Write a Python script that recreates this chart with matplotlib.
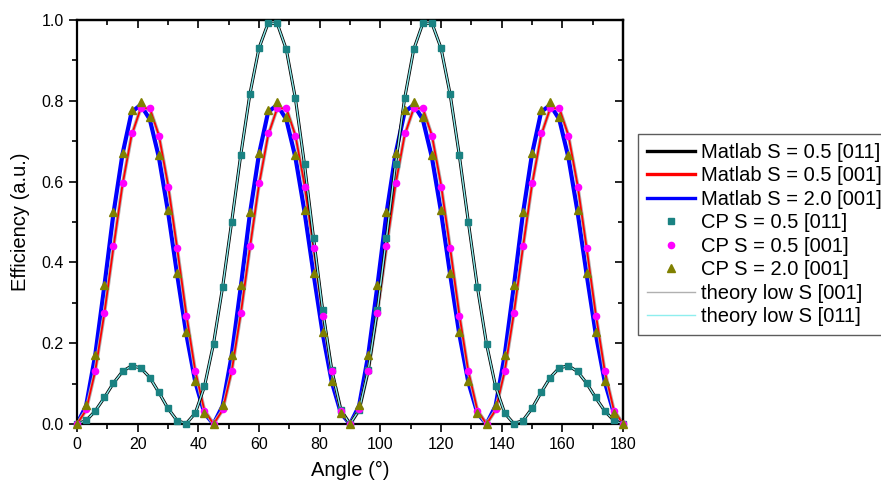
import matplotlib
matplotlib.use("Agg")
import matplotlib.pyplot as plt
from matplotlib.lines import Line2D
from matplotlib.ticker import MultipleLocator, FormatStrFormatter

plt.rcParams['font.family'] = ['Liberation Sans', 'DejaVu Sans']

angle = list(range(0, 181, 3))

matlab_05_011 = [0, .0085, .0321, .0651, .1010, .1300, .1440, .1390, .1150, .0780, .0385, .0085, .0010,
                 .0269, .0925, .1985, .3388, .5008, .6668, .8167, .9306, .9922, .9916, .9270, .8056,
                 .6425, .4596, .2815, .1328, .0344, 0,
                 .0344, .1328, .2815, .4596, .6425, .8056, .9270, .9916, .9922, .9306, .8167, .6668,
                 .5008, .3388, .1985, .0925, .0269, .0010, .0085, .0385, .0780, .1150, .1390, .1440,
                 .1300, .1010, .0651, .0321, .0085, 0]

matlab_05_001 = [0, .0342, .1307, .2729, .4363, .5925, .7146, .7814, .7814, .7146, .5925, .4363, .2729, .1307, .0342,
                 0, .0342, .1307, .2729, .4363, .5925, .7146, .7814, .7814, .7146, .5925, .4363, .2729, .1307, .0342,
                 0, .0342, .1307, .2729, .4363, .5925, .7146, .7814, .7814, .7146, .5925, .4363, .2729, .1307, .0342,
                 0, .0342, .1307, .2729, .4363, .5925, .7146, .7814, .7814, .7146, .5925, .4363, .2729, .1307, .0342,
                 0]

matlab_20_001 = [0, .045, .170, .340, .520, .668, .772, .790, .754, .660, .526, .371, .224, .104, .027,
                 0, .045, .170, .340, .520, .668, .772, .790, .754, .660, .526, .371, .224, .104, .027,
                 0, .045, .170, .340, .520, .668, .772, .790, .754, .660, .526, .371, .224, .104, .027,
                 0, .045, .170, .340, .520, .668, .772, .790, .754, .660, .526, .371, .224, .104, .027,
                 0]

cp_05_011 = [0, .0090, .0330, .0660, .1010, .1300, .1440, .1390, .1150, .0780, .0385, .0085, .0010,
             .0270, .0930, .1990, .3390, .5010, .6670, .8170, .9310, .9920, .9920, .9270, .8060,
             .6430, .4600, .2820, .1330, .0345, 0,
             .0345, .1330, .2820, .4600, .6430, .8060, .9270, .9920, .9920, .9310, .8170, .6670,
             .5010, .3390, .1990, .0930, .0270, .0010, .0085, .0385, .0780, .1150, .1390, .1440,
             .1300, .1010, .0660, .0330, .0090, 0]

cp_05_001 = [0, .036, .130, .274, .440, .597, .720, .783, .783, .714, .586, .435, .267, .130, .032,
             0, .036, .130, .274, .440, .597, .720, .783, .783, .714, .586, .435, .267, .130, .032,
             0, .036, .130, .274, .440, .597, .720, .783, .783, .714, .586, .435, .267, .130, .032,
             0, .036, .130, .274, .440, .597, .720, .783, .783, .714, .586, .435, .267, .130, .032,
             0]

cp_20_001 = [0, .047, .172, .344, .524, .672, .777, .798, .759, .665, .530, .375, .228, .106, .028,
             0, .047, .172, .344, .524, .672, .777, .798, .759, .665, .530, .375, .228, .106, .028,
             0, .047, .172, .344, .524, .672, .777, .798, .759, .665, .530, .375, .228, .106, .028,
             0, .047, .172, .344, .524, .672, .777, .798, .759, .665, .530, .375, .228, .106, .028,
             0]

theory_001 = matlab_05_001
theory_011 = matlab_05_011

labels = ["Matlab S = 0.5 [011]", "Matlab S = 0.5 [001]", "Matlab S = 2.0 [001]",
          "CP S = 0.5 [011]", "CP S = 0.5 [001]", "CP S = 2.0 [001]",
          "theory low S [001]", "theory low S [011]"]

c_black, c_red, c_blue = '#000000', '#ff0000', '#0000ff'
c_teal, c_mag, c_olive = '#1a8282', '#ff00ff', '#808000'
c_gray, c_cyan = '#b0b0b0', '#8eeeee'

fig = plt.figure(figsize=(8.81, 4.88), dpi=100)
ax = fig.add_axes([77/881, 64/488, 546/881, 404/488])

ax.plot(angle, matlab_20_001, color=c_blue, lw=3.0, zorder=2)
ax.plot(angle, theory_001, color=c_gray, lw=2.6, zorder=2.1)
ax.plot(angle, matlab_05_001, color=c_red, lw=1.3, zorder=2.2)
ax.plot(angle, matlab_05_011, color=c_black, lw=2.2, zorder=2.3)
ax.plot(angle, theory_011, color=c_cyan, lw=1.0, zorder=2.4)

ax.plot(angle, cp_05_011, ls='none', marker='s', ms=4.5, color=c_teal, mec=c_teal, zorder=3, clip_on=False)
ax.plot(angle, cp_05_001, ls='none', marker='o', ms=4.5, color=c_mag, mec=c_mag, zorder=3, clip_on=False)
ax.plot(angle, cp_20_001, ls='none', marker='^', ms=5.8, color=c_olive, mec=c_olive, zorder=3.1, clip_on=False)

ax.set_xlim(0, 180)
ax.set_ylim(0, 1.0)
ax.xaxis.set_major_locator(MultipleLocator(20))
ax.xaxis.set_minor_locator(MultipleLocator(10))
ax.yaxis.set_major_locator(MultipleLocator(0.2))
ax.yaxis.set_minor_locator(MultipleLocator(0.1))
ax.yaxis.set_major_formatter(FormatStrFormatter('%.1f'))
ax.tick_params(which='major', direction='out', length=6, width=1.2, labelsize=11.5)
ax.tick_params(which='minor', direction='out', length=3.5, width=1.2)
for s in ax.spines.values():
    s.set_linewidth(1.6)

axt = ax.secondary_xaxis('top')
axt.xaxis.set_major_locator(MultipleLocator(20))
axt.xaxis.set_minor_locator(MultipleLocator(10))
axt.tick_params(which='major', direction='in', length=6, width=1.2, labeltop=False)
axt.tick_params(which='minor', direction='in', length=3.5, width=1.2)
axt.spines['top'].set_linewidth(1.6)
axr = ax.secondary_yaxis('right')
axr.yaxis.set_major_locator(MultipleLocator(0.2))
axr.yaxis.set_minor_locator(MultipleLocator(0.1))
axr.tick_params(which='major', direction='in', length=6, width=1.2, labelright=False)
axr.tick_params(which='minor', direction='in', length=3.5, width=1.2)
axr.spines['right'].set_linewidth(1.6)

ax.set_xlabel("Angle (°)", fontsize=14.5, labelpad=6)
ax.set_ylabel("Efficiency (a.u.)", fontsize=14.5, labelpad=8)

handles = [
    Line2D([], [], color=c_black, lw=2.4),
    Line2D([], [], color=c_red, lw=2.4),
    Line2D([], [], color=c_blue, lw=2.4),
    Line2D([], [], ls='none', marker='s', ms=4.5, color=c_teal),
    Line2D([], [], ls='none', marker='o', ms=4.5, color=c_mag),
    Line2D([], [], ls='none', marker='^', ms=5.8, color=c_olive),
    Line2D([], [], color=c_gray, lw=1.0),
    Line2D([], [], color=c_cyan, lw=1.0),
]
leg = fig.legend(handles, labels, loc='upper left', bbox_to_anchor=(638/881, 1 - 134/488),
                 fontsize=14.5, frameon=True, fancybox=False, edgecolor='#333333',
                 borderaxespad=0, handlelength=2.4, handletextpad=0.3, labelspacing=0.22,
                 borderpad=0.45, numpoints=1)
leg.get_frame().set_linewidth(1.0)

fig.savefig("out.png", dpi=100)
